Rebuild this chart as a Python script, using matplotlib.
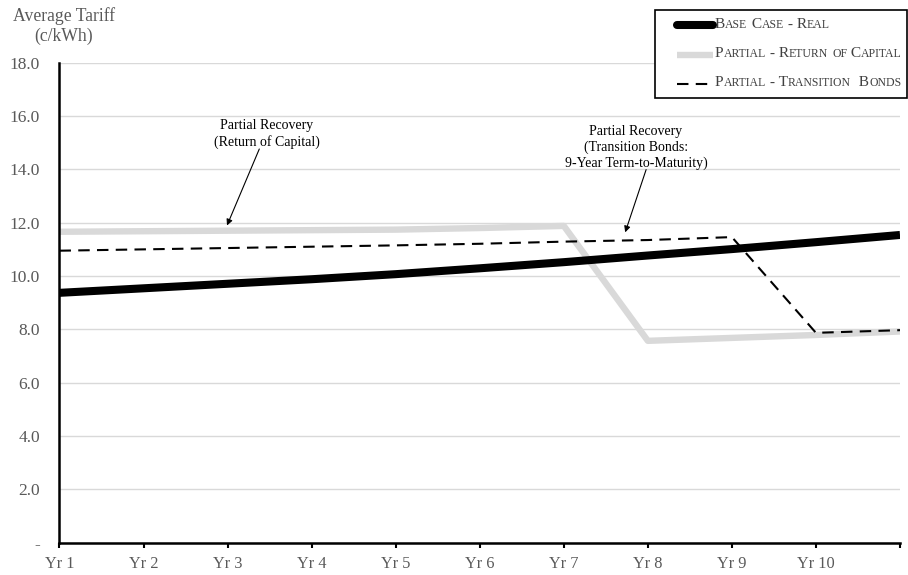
import matplotlib
matplotlib.use("Agg")
import matplotlib.pyplot as plt
from matplotlib.lines import Line2D
from matplotlib.patches import Rectangle
from matplotlib.offsetbox import TextArea, HPacker, AnchoredOffsetbox

# Tarifa média (c/kWh) por ano; o último ponto fecha a linha na borda direita
anos = ["Yr 1", "Yr 2", "Yr 3", "Yr 4", "Yr 5", "Yr 6", "Yr 7", "Yr 8", "Yr 9", "Yr 10", ""]
base_real = [9.37, 9.54, 9.71, 9.88, 10.07, 10.29, 10.52, 10.77, 11.01, 11.27, 11.54]
retorno_capital = [11.66, 11.68, 11.70, 11.72, 11.74, 11.80, 11.88, 7.57, 7.68, 7.79, 7.92]
transicao = [10.95, 11.00, 11.05, 11.10, 11.15, 11.21, 11.29, 11.35, 11.46, 7.87, 7.97]
y_ticks = [0, 2, 4, 6, 8, 10, 12, 14, 16, 18]
y_labels = ["-", "2.0", "4.0", "6.0", "8.0", "10.0", "12.0", "14.0", "16.0", "18.0"]

serif = "Liberation Serif"
cinza_txt = "#595959"
W, H = 908, 575

fig = plt.figure(figsize=(W / 100, H / 100), dpi=100)
ax = fig.add_axes([59.5 / W, 1 - 542.7 / H, (900 - 59.5) / W, (542.7 - 62.7) / H])

x = list(range(len(anos)))
ax.plot(x, base_real, color="black", lw=5.8, solid_capstyle="butt", zorder=3)
ax.plot(x, retorno_capital, color="#d9d9d9", lw=4.6, solid_capstyle="butt", zorder=2)
ax.plot(x, transicao, color="black", lw=1.5, linestyle=(0, (5.5, 3.5)), zorder=4)

ax.set_xlim(0, 10)
ax.set_ylim(0, 18)
ax.set_xticks(x)
ax.set_xticklabels(anos, family=serif, fontsize=11.8, color=cinza_txt)
ax.set_yticks(y_ticks)
ax.set_yticklabels(y_labels, family=serif, fontsize=12.5, color=cinza_txt)
ax.tick_params(axis="x", direction="out", length=3.8, width=1.5, pad=6)
ax.tick_params(axis="y", length=0, pad=14)
ax.yaxis.grid(True, color="#d9d9d9", lw=1)
ax.set_axisbelow(True)
for lado in ["top", "right"]:
    ax.spines[lado].set_visible(False)
for lado in ["left", "bottom"]:
    ax.spines[lado].set_linewidth(1.8)
    ax.spines[lado].set_zorder(5)

# Rótulo do eixo y no canto superior esquerdo
fig.text(64 / W, 1 - 26 / H, "Average Tariff\n(c/kWh)", family=serif, fontsize=12.7,
         color=cinza_txt, ha="center", va="center", linespacing=1.25)

# Anotações com setas
ax.text(2.47, 15.33, "Partial Recovery\n(Return of Capital)", family=serif, fontsize=10,
        ha="center", va="center", linespacing=1.25)
ax.annotate("", xy=(1.98, 11.80), xytext=(2.39, 14.86),
            arrowprops=dict(arrowstyle="-|>", color="black", lw=0.8, mutation_scale=9))
ax.text(6.86, 14.83, "Partial Recovery\n(Transition Bonds:\n9-Year Term-to-Maturity)",
        family=serif, fontsize=10, ha="center", va="center", linespacing=1.25)
ax.annotate("", xy=(6.72, 11.54), xytext=(6.99, 14.09),
            arrowprops=dict(arrowstyle="-|>", color="black", lw=0.8, mutation_scale=9))

# Legenda desenhada à mão (texto em versalete)
lax = fig.add_axes([0, 0, 1, 1], zorder=10)
lax.set_xlim(0, W)
lax.set_ylim(H, 0)
lax.axis("off")
lax.add_patch(Rectangle((655, 10), 252, 88, facecolor="white", edgecolor="black", lw=1.2))

def versalete(texto, grande=11.1, pequena=8.5):
    partes = []
    atual, tam = "", None
    for c in texto:
        t = pequena if c.islower() else grande
        if t != tam and atual:
            partes.append((atual, tam))
            atual = ""
        atual += c.upper()
        tam = t
    partes.append((atual, tam))
    caixas = [TextArea(p, textprops=dict(family=serif, fontsize=s, color="#404040"))
              for p, s in partes]
    return HPacker(children=caixas, align="baseline", pad=0, sep=0)

entradas = [
    ("Base Case - Real", dict(color="black", lw=5.8, solid_capstyle="round")),
    ("Partial - Return of Capital", dict(color="#d9d9d9", lw=4.6, solid_capstyle="butt")),
    ("Partial - Transition  Bonds", dict(color="black", lw=1.5, linestyle=(0, (5.5, 3.5)))),
]
for i, (rotulo, estilo) in enumerate(entradas):
    yy = 25 + i * 29.5
    lax.add_line(Line2D([677, 713], [yy, yy], **estilo))
    caixa = AnchoredOffsetbox(loc="center left", child=versalete(rotulo), pad=0, borderpad=0,
                              frameon=False, bbox_to_anchor=(715 / W, 1 - (yy - 1) / H),
                              bbox_transform=fig.transFigure)
    lax.add_artist(caixa)

fig.savefig("out.png", dpi=100)
